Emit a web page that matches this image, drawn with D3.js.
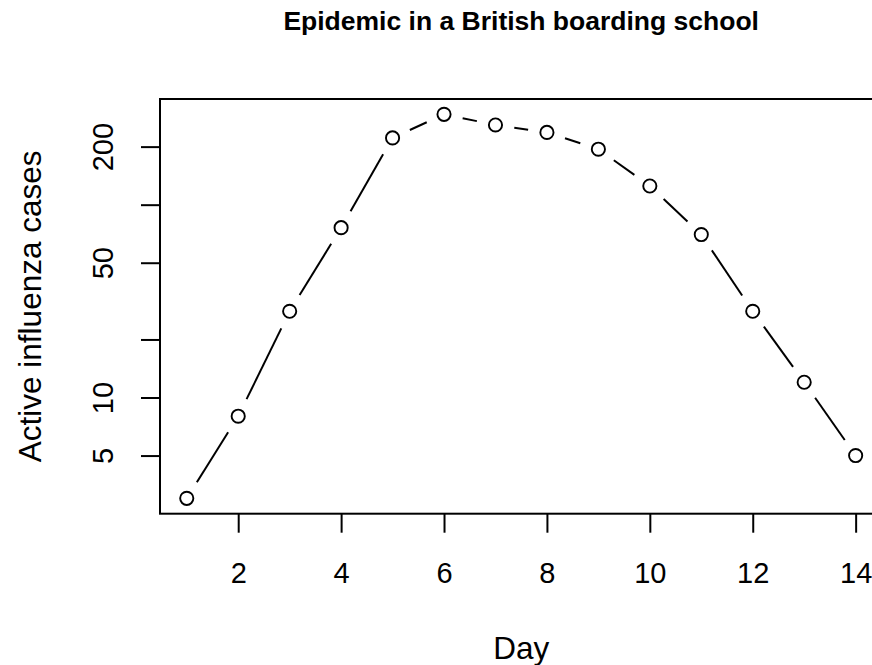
<!DOCTYPE html>
<html>
<head>
<meta charset="utf-8">
<script src="https://cdn.jsdelivr.net/npm/d3@7"></script>
<style>
  body { margin: 0; background: #fff; }
  svg { display: block; }
  text { font-family: "Liberation Sans", Arial, Helvetica, sans-serif; fill: #000; }
</style>
</head>
<body>
<div id="chart"></div>
<script>
// data
var days = [1, 2, 3, 4, 5, 6, 7, 8, 9, 10, 11, 12, 13, 14];
var cases = [3, 8, 28, 76, 222, 294, 259, 237, 194, 125, 70, 28, 12, 5];
var xTicks = [2, 4, 6, 8, 10, 12, 14];
var yTicks = [5, 10, 20, 50, 100, 200];
var yTickLabels = ["5", "10", "", "50", "", "200"];

var W = 872, H = 665;
var plot = {left: 160, top: 99, right: 882.4, bottom: 513.7};

var svg = d3.select("#chart")
  .append("svg")
  .attr("width", W)
  .attr("height", H);

// R style 4% padding on both axes (log space for y)
var xPad = 0.04 * (d3.max(days) - d3.min(days));
var x = d3.scaleLinear()
  .domain([d3.min(days) - xPad, d3.max(days) + xPad])
  .range([plot.left, plot.right]);

var lo = Math.log10(d3.min(cases)), hi = Math.log10(d3.max(cases));
var yPad = 0.04 * (hi - lo);
var y = d3.scaleLog()
  .domain([Math.pow(10, lo - yPad), Math.pow(10, hi + yPad)])
  .range([plot.bottom, plot.top]);

var pts = days.map(function(d, i) { return {day: d, n: cases[i]}; });

// line segments with gaps round the points (type = "b")
var gap = 19;
var segs = [];
for (var i = 0; i < pts.length - 1; i++) {
  var x0 = x(pts[i].day), y0 = y(pts[i].n);
  var x1 = x(pts[i + 1].day), y1 = y(pts[i + 1].n);
  var len = Math.sqrt((x1 - x0) * (x1 - x0) + (y1 - y0) * (y1 - y0));
  if (len > 2 * gap) {
    var ux = (x1 - x0) / len, uy = (y1 - y0) / len;
    segs.push([x0 + ux * gap, y0 + uy * gap, x1 - ux * gap, y1 - uy * gap]);
  }
}
svg.append("g")
  .selectAll("line")
  .data(segs)
  .join("line")
  .attr("x1", function(d) { return d[0]; })
  .attr("y1", function(d) { return d[1]; })
  .attr("x2", function(d) { return d[2]; })
  .attr("y2", function(d) { return d[3]; })
  .attr("stroke", "#000")
  .attr("stroke-width", 2);

svg.append("g")
  .selectAll("circle")
  .data(pts)
  .join("circle")
  .attr("cx", function(d) { return x(d.day); })
  .attr("cy", function(d) { return y(d.n); })
  .attr("r", 6.6)
  .attr("fill", "none")
  .attr("stroke", "#000")
  .attr("stroke-width", 1.9);

// box
svg.append("rect")
  .attr("x", plot.left)
  .attr("y", plot.top)
  .attr("width", plot.right - plot.left)
  .attr("height", plot.bottom - plot.top)
  .attr("fill", "none")
  .attr("stroke", "#000")
  .attr("stroke-width", 2);

// x axis
var gx = svg.append("g")
  .attr("transform", "translate(0," + plot.bottom + ")")
  .call(d3.axisBottom(x).tickValues(xTicks).tickSize(19).tickPadding(0).tickFormat(d3.format("d")));
gx.select(".domain").remove();
gx.selectAll(".tick line").attr("stroke", "#000").attr("stroke-width", 2);
gx.selectAll(".tick text")
  .attr("y", 583 - plot.bottom)
  .attr("dy", null)
  .attr("font-size", 29)
  .attr("font-family", null)
  .attr("fill", "#000");

// y axis, labels upright along the axis as in R
var gy = svg.append("g")
  .attr("transform", "translate(" + plot.left + ",0)")
  .call(d3.axisLeft(y).tickValues(yTicks).tickSize(19)
    .tickFormat(function(d, i) { return yTickLabels[i]; }));
gy.select(".domain").remove();
gy.selectAll(".tick line").attr("stroke", "#000").attr("stroke-width", 2);
gy.selectAll(".tick text")
  .attr("x", null)
  .attr("dy", null)
  .attr("text-anchor", "middle")
  .attr("transform", "translate(" + (113 - plot.left) + ",0) rotate(-90)")
  .attr("font-size", 29)
  .attr("font-family", null)
  .attr("fill", "#000");

// titles
svg.append("text")
  .attr("x", (plot.left + plot.right) / 2)
  .attr("y", 30)
  .attr("text-anchor", "middle")
  .attr("font-size", 26.5)
  .attr("font-weight", "bold")
  .text("Epidemic in a British boarding school");

svg.append("text")
  .attr("x", (plot.left + plot.right) / 2)
  .attr("y", 659)
  .attr("text-anchor", "middle")
  .attr("font-size", 31.5)
  .text("Day");

svg.append("text")
  .attr("transform", "translate(41," + (plot.top + plot.bottom) / 2 + ") rotate(-90)")
  .attr("text-anchor", "middle")
  .attr("font-size", 31.5)
  .text("Active influenza cases");
</script>
</body>
</html>
